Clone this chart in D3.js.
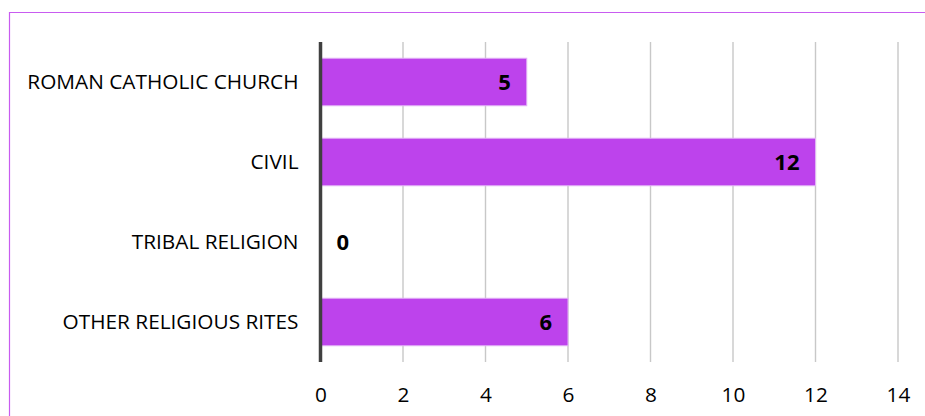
<!DOCTYPE html>
<html>
<head>
<meta charset="utf-8">
<script src="https://cdn.jsdelivr.net/npm/d3@7"></script>
<style>
  html, body { margin: 0; padding: 0; background: #fff; }
  svg { display: block; }
  text { font-family: "Open Sans", sans-serif; fill: #000; }
</style>
</head>
<body>
<div id="chart"></div>
<script>
(function (d3) {
    "use strict";

    // data
    var categories = ["ROMAN CATHOLIC CHURCH", "CIVIL", "TRIBAL RELIGION", "OTHER RELIGIOUS RITES"];
    var values = [5, 12, 0, 6];
    var tickValues = [0, 2, 4, 6, 8, 10, 12, 14];

    var W = 925, H = 416;
    var svg = d3.select("#chart").append("svg").attr("width", W).attr("height", H);

    // frame
    svg.append("path")
        .attr("d", "M9.5," + H + "V12.5H" + W)
        .attr("fill", "none")
        .attr("stroke", "#c85cf0")
        .attr("stroke-width", 1.2);

    var x = d3.scaleLinear().domain([0, 14]).range([320.5, 898]);
    var y = d3.scaleBand().domain(categories).range([42, 362]).paddingInner(0.406).paddingOuter(0.203);

    // grid
    svg.append("g").selectAll("line").data(tickValues.slice(1)).enter().append("line")
        .attr("x1", function (d) { return x(d); })
        .attr("x2", function (d) { return x(d); })
        .attr("y1", 42).attr("y2", 362)
        .attr("stroke", "#c8c8c8").attr("stroke-width", 1.4);

    // bars
    var rows = categories.map(function (c, i) { return { cat: c, val: values[i] }; });
    svg.append("g").selectAll("rect").data(rows.filter(function (d) { return d.val > 0; })).enter().append("rect")
        .attr("x", x(0))
        .attr("y", function (d) { return y(d.cat); })
        .attr("width", function (d) { return x(d.val) - x(0); })
        .attr("height", y.bandwidth())
        .attr("fill", "#bd43ec")
        .attr("stroke", "#e2b2f6")
        .attr("stroke-width", 1);

    // value labels
    svg.append("g").selectAll("text").data(rows).enter().append("text")
        .attr("x", function (d) { return d.val > 0 ? x(d.val) - 16 : x(0) + 16; })
        .attr("y", function (d) { return y(d.cat) + y.bandwidth() / 2; })
        .attr("dy", "0.36em")
        .attr("text-anchor", function (d) { return d.val > 0 ? "end" : "start"; })
        .attr("font-size", 22)
        .attr("font-weight", "bold")
        .text(function (d) { return d.val; });

    // y axis
    var yAxis = svg.append("g").attr("transform", "translate(" + 320.5 + ",0)")
        .call(d3.axisLeft(y).tickSize(0).tickPadding(22));
    yAxis.select(".domain").remove();
    yAxis.selectAll("text").attr("font-size", 20.8).attr("font-family", "Open Sans, sans-serif").attr("fill", "#000");
    svg.append("line")
        .attr("x1", x(0)).attr("x2", x(0))
        .attr("y1", 42).attr("y2", 362)
        .attr("stroke", "#404040").attr("stroke-width", 3.5);

    // x axis
    var xAxis = svg.append("g").attr("transform", "translate(0,362)")
        .call(d3.axisBottom(x).tickValues(tickValues).tickSize(0).tickPadding(25).tickFormat(d3.format("d")));
    xAxis.select(".domain").remove();
    xAxis.selectAll("text").attr("font-size", 20.8).attr("font-family", "Open Sans, sans-serif").attr("fill", "#000");
})(d3);
</script>
</body>
</html>
